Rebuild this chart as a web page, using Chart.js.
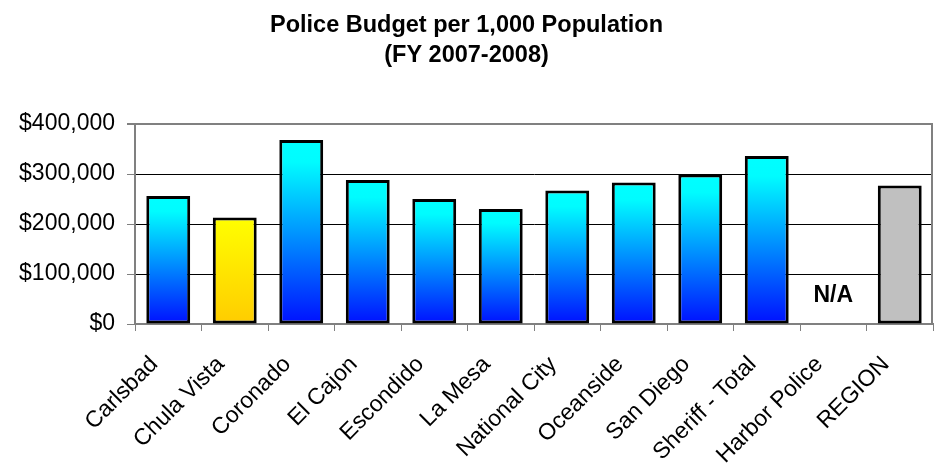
<!DOCTYPE html>
<html>
<head>
<meta charset="utf-8">
<script src="https://cdn.jsdelivr.net/npm/chart.js@4.4.1/dist/chart.umd.min.js"></script>
<style>
  html, body { margin: 0; padding: 0; background: #ffffff; }
  #wrap { width: 934px; height: 466px; }
</style>
</head>
<body>
<div id="wrap"><canvas id="c" width="934" height="466"></canvas></div>
<script>
// ---- data ----
const titleLines = ['Police Budget per 1,000 Population', '(FY 2007-2008)'];
const categories = ['Carlsbad', 'Chula Vista', 'Coronado', 'El Cajon', 'Escondido', 'La Mesa',
  'National City', 'Oceanside', 'San Diego', 'Sheriff - Total', 'Harbor Police', 'REGION'];
const budgetPer1000 = [256000, 213000, 368000, 288000, 250000, 230000, 267000, 283000, 299000, 336000, null, 277000];
const highlightCity = 'Chula Vista';
const regionLabel = 'REGION';
const missingText = 'N/A';
const yTicks = [0, 100000, 200000, 300000, 400000];

const FONT = "'Liberation Sans', Arial, sans-serif";

function barFill(ctx) {
  const chart = ctx.chart;
  const area = chart.chartArea;
  const i = ctx.dataIndex;
  const cat = categories[i];
  if (cat === regionLabel) return '#c0c0c0';
  if (!area || !chart.scales.y) return cat === highlightCity ? '#ffee00' : '#00aaff';
  const v = budgetPer1000[i];
  if (v == null) return 'rgba(0,0,0,0)';
  const yTop = chart.scales.y.getPixelForValue(v);
  const yBase = chart.scales.y.getPixelForValue(0);
  const g = chart.ctx.createLinearGradient(0, yTop, 0, yBase);
  if (cat === highlightCity) {
    g.addColorStop(0, '#ffff00');
    g.addColorStop(1, '#ffcc00');
  } else {
    g.addColorStop(0, '#00ffff');
    g.addColorStop(0.12, '#00fcff');
    g.addColorStop(1, '#0010ff');
  }
  return g;
}

const frameAndNA = {
  id: 'frameAndNA',
  afterDatasetsDraw(chart) {
    const { ctx, chartArea, scales } = chart;
    ctx.save();
    ctx.strokeStyle = '#808080';
    ctx.lineWidth = 2;
    ctx.beginPath();
    ctx.moveTo(chartArea.right - 1, chartArea.top);
    ctx.lineTo(chartArea.right - 1, chartArea.bottom);
    ctx.stroke();
    ctx.fillStyle = '#000';
    ctx.font = 'bold 23px ' + FONT;
    ctx.textAlign = 'center';
    ctx.textBaseline = 'middle';
    budgetPer1000.forEach((v, i) => {
      if (v == null) {
        const x = scales.x.getPixelForValue(i);
        ctx.fillText(missingText, x, chartArea.bottom - 28);
      }
    });
    ctx.restore();
  }
};

new Chart(document.getElementById('c'), {
  type: 'bar',
  data: {
    labels: categories,
    datasets: [{
      data: budgetPer1000,
      backgroundColor: barFill,
      borderColor: '#000000',
      borderWidth: 3,
      borderSkipped: false,
      barPercentage: 0.66,
      categoryPercentage: 1.0
    }]
  },
  options: {
    responsive: false,
    animation: false,
    devicePixelRatio: 1,
    layout: { padding: { left: 0, right: 1, top: 0, bottom: 0 } },
    plugins: {
      legend: { display: false },
      tooltip: { enabled: false },
      title: {
        display: true,
        text: titleLines,
        color: '#000',
        font: { family: FONT, size: 23.5, weight: 'bold', lineHeight: 1.3 },
        padding: { top: 10, bottom: 53 }
      }
    },
    scales: {
      x: {
        grid: {
          display: true,
          drawOnChartArea: false,
          drawTicks: true,
          tickLength: 7,
          color: '#808080',
          lineWidth: 1,
          offset: true
        },
        border: { display: true, color: '#808080', width: 2 },
        ticks: {
          color: '#000',
          font: { family: FONT, size: 23 },
          minRotation: 45,
          maxRotation: 45,
          autoSkip: false,
          padding: 20,
          labelOffset: -14
        },
        afterFit(scale) {
          scale.height = 142;
          scale.paddingLeft = 0;
          scale.paddingRight = 0;
        }
      },
      y: {
        min: 0,
        max: 400000,
        afterBuildTicks(scale) { scale.ticks = yTicks.map(v => ({ value: v })); },
        grid: {
          color: (c) => (c.tick && c.tick.value === 400000) ? '#808080' : '#000000',
          lineWidth: (c) => (c.tick && c.tick.value === 400000) ? 2 : 1,
          tickLength: 8,
          tickColor: '#808080'
        },
        border: { display: true, color: '#808080', width: 2 },
        ticks: {
          color: '#000',
          font: { family: FONT, size: 23 },
          padding: 12,
          callback: (v) => '$' + Number(v).toLocaleString('en-US')
        },
        afterFit(scale) { scale.width = 135; }
      }
    }
  },
  plugins: [frameAndNA]
});
</script>
</body>
</html>
